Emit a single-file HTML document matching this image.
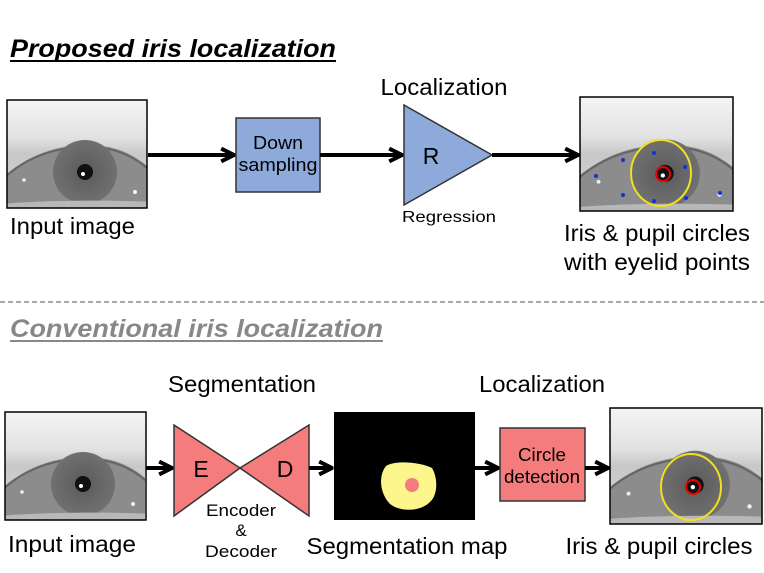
<!DOCTYPE html>
<html><head><meta charset="utf-8"><style>
body{margin:0;background:#fff;}
svg{display:block;font-family:"Liberation Sans",Arial,sans-serif;}
</style></head><body>
<svg width="764" height="573" viewBox="0 0 764 573" xmlns="http://www.w3.org/2000/svg">
<defs>
<linearGradient id="bg" x1="0" y1="0" x2="0" y2="1">
<stop offset="0" stop-color="#f4f4f4"/><stop offset="0.35" stop-color="#e2e2e2"/><stop offset="0.5" stop-color="#c8c8c8"/><stop offset="1" stop-color="#d8d8d8"/></linearGradient>
<radialGradient id="ir" cx="0.5" cy="0.5" r="0.5"><stop offset="0" stop-color="#5a5a5a"/><stop offset="1" stop-color="#707070"/></radialGradient>
<clipPath id="ec"><rect x="0" y="0" width="140" height="108"/></clipPath>
<g id="eye">
<g clip-path="url(#ec)">
<rect width="140" height="108" fill="url(#bg)"/>
<path d="M-5,78 C20,55 50,45 80,45 C110,45 130,55 150,75 L150,105 C110,108 40,108 -5,104 Z" fill="#8c8c8c"/>
<path d="M-5,80 C20,56 50,47 80,47 C110,47 130,57 150,77" fill="none" stroke="#666" stroke-width="2"/>
<circle cx="78" cy="72" r="32" fill="url(#ir)"/>
<path d="M-5,104 C40,100 110,100 150,102 L150,108 L-5,108Z" fill="#b8b8b8"/>
<circle cx="78" cy="72" r="8" fill="#111"/>
<circle cx="76" cy="74" r="2" fill="#fff"/>
<circle cx="17" cy="80" r="1.8" fill="#eee"/>
<circle cx="128" cy="92" r="2" fill="#f4f4f4"/>
</g>
</g>
<marker id="ah" viewBox="0 0 10 10" refX="9" refY="5" markerWidth="4" markerHeight="4" orient="auto"><path d="M1,1 L9,5 L1,9" fill="none" stroke="#000" stroke-width="2.5"/></marker>
</defs>

<text x="10" y="57" font-size="25" font-weight="bold" font-style="italic" fill="#000" textLength="326" lengthAdjust="spacingAndGlyphs">Proposed iris localization</text>
<line x1="10" y1="61" x2="336" y2="61" stroke="#000" stroke-width="2"/>

<use href="#eye" transform="translate(7,100)"/>
<rect x="7" y="100" width="140" height="108" fill="none" stroke="#000" stroke-width="1.5"/>
<text x="10" y="234" font-size="23" textLength="125" lengthAdjust="spacingAndGlyphs">Input image</text>

<line x1="148" y1="155" x2="234" y2="155" stroke="#000" stroke-width="4" marker-end="url(#ah)"/>
<rect x="236" y="118" width="84" height="74" fill="#8eaadb" stroke="#333" stroke-width="1.5"/>
<text x="278" y="149" font-size="18" text-anchor="middle" textLength="50" lengthAdjust="spacingAndGlyphs">Down</text>
<text x="278" y="171" font-size="18" text-anchor="middle" textLength="79" lengthAdjust="spacingAndGlyphs">sampling</text>
<line x1="320" y1="155" x2="402" y2="155" stroke="#000" stroke-width="4" marker-end="url(#ah)"/>
<polygon points="404,105 492,155 404,205" fill="#8eaadb" stroke="#333" stroke-width="1.5"/>
<text x="431" y="164" font-size="23" text-anchor="middle">R</text>
<text x="444" y="95" font-size="23" text-anchor="middle" textLength="127" lengthAdjust="spacingAndGlyphs">Localization</text>
<text x="449" y="222" font-size="16" text-anchor="middle" textLength="94" lengthAdjust="spacingAndGlyphs">Regression</text>
<line x1="492" y1="155" x2="578" y2="155" stroke="#000" stroke-width="4" marker-end="url(#ah)"/>

<use href="#eye" transform="translate(580,97) scale(1.09,1.06)"/>
<rect x="580" y="97" width="153" height="114" fill="none" stroke="#000" stroke-width="1.5"/>
<ellipse cx="661" cy="173" rx="30" ry="33" fill="none" stroke="#f0e020" stroke-width="2"/>
<circle cx="663" cy="174" r="7" fill="none" stroke="#e00" stroke-width="2"/>
<g fill="#1030e0"><circle cx="596" cy="176" r="2"/><circle cx="623" cy="160" r="2"/><circle cx="654" cy="153" r="2"/><circle cx="685" cy="167" r="2"/><circle cx="623" cy="195" r="2"/><circle cx="654" cy="201" r="2"/><circle cx="686" cy="198" r="2"/><circle cx="720" cy="193" r="2"/></g>
<text x="657" y="241" font-size="23" text-anchor="middle" textLength="186" lengthAdjust="spacingAndGlyphs">Iris &amp; pupil circles</text>
<text x="657" y="270" font-size="23" text-anchor="middle" textLength="186" lengthAdjust="spacingAndGlyphs">with eyelid points</text>

<line x1="0" y1="302" x2="764" y2="302" stroke="#888" stroke-width="1.5" stroke-dasharray="5,3"/>

<text x="10" y="337" font-size="25" font-weight="bold" font-style="italic" fill="#888" textLength="373" lengthAdjust="spacingAndGlyphs">Conventional iris localization</text>
<line x1="10" y1="341" x2="383" y2="341" stroke="#888" stroke-width="2"/>

<use href="#eye" transform="translate(5,412)"/>
<rect x="5" y="412" width="141" height="108" fill="none" stroke="#000" stroke-width="1.5"/>
<text x="8" y="552" font-size="23" textLength="128" lengthAdjust="spacingAndGlyphs">Input image</text>

<text x="242" y="392" font-size="23" text-anchor="middle" textLength="148" lengthAdjust="spacingAndGlyphs">Segmentation</text>
<line x1="146" y1="468" x2="172" y2="468" stroke="#000" stroke-width="4" marker-end="url(#ah)"/>
<polygon points="174,425 240,468 174,516" fill="#f47c7c" stroke="#333" stroke-width="1.5"/>
<polygon points="309,425 240,468 309,516" fill="#f47c7c" stroke="#333" stroke-width="1.5"/>
<text x="201" y="477" font-size="23" text-anchor="middle">E</text>
<text x="285" y="477" font-size="23" text-anchor="middle">D</text>
<text x="241" y="516" font-size="17" text-anchor="middle" textLength="70" lengthAdjust="spacingAndGlyphs">Encoder</text>
<text x="241" y="536" font-size="17" text-anchor="middle">&amp;</text>
<text x="241" y="557" font-size="17" text-anchor="middle" textLength="72" lengthAdjust="spacingAndGlyphs">Decoder</text>
<line x1="309" y1="468" x2="332" y2="468" stroke="#000" stroke-width="4" marker-end="url(#ah)"/>

<rect x="334" y="412" width="141" height="108" fill="#000"/>
<path d="M386,466 C395,460 420,462 432,468 C438,478 438,495 430,502 C420,512 400,512 390,504 C380,494 378,476 386,466Z" fill="#fcf68c"/>
<circle cx="412" cy="485" r="7" fill="#f47c7c"/>
<text x="407" y="554" font-size="23" text-anchor="middle" textLength="201" lengthAdjust="spacingAndGlyphs">Segmentation map</text>

<text x="542" y="392" font-size="23" text-anchor="middle" textLength="126" lengthAdjust="spacingAndGlyphs">Localization</text>
<line x1="475" y1="468" x2="498" y2="468" stroke="#000" stroke-width="4" marker-end="url(#ah)"/>
<rect x="500" y="428" width="85" height="73" fill="#f47c7c" stroke="#333" stroke-width="1.5"/>
<text x="542" y="461" font-size="18" text-anchor="middle" textLength="48" lengthAdjust="spacingAndGlyphs">Circle</text>
<text x="542" y="483" font-size="18" text-anchor="middle" textLength="76" lengthAdjust="spacingAndGlyphs">detection</text>
<line x1="585" y1="468" x2="608" y2="468" stroke="#000" stroke-width="4" marker-end="url(#ah)"/>

<use href="#eye" transform="translate(610,408) scale(1.09,1.07)"/>
<rect x="610" y="408" width="152" height="116" fill="none" stroke="#000" stroke-width="1.5"/>
<ellipse cx="691" cy="487" rx="30" ry="33" fill="none" stroke="#f0e020" stroke-width="2"/>
<circle cx="693" cy="487" r="7" fill="none" stroke="#e00" stroke-width="2"/>
<text x="659" y="554" font-size="23" text-anchor="middle" textLength="187" lengthAdjust="spacingAndGlyphs">Iris &amp; pupil circles</text>
</svg>
</body></html>
